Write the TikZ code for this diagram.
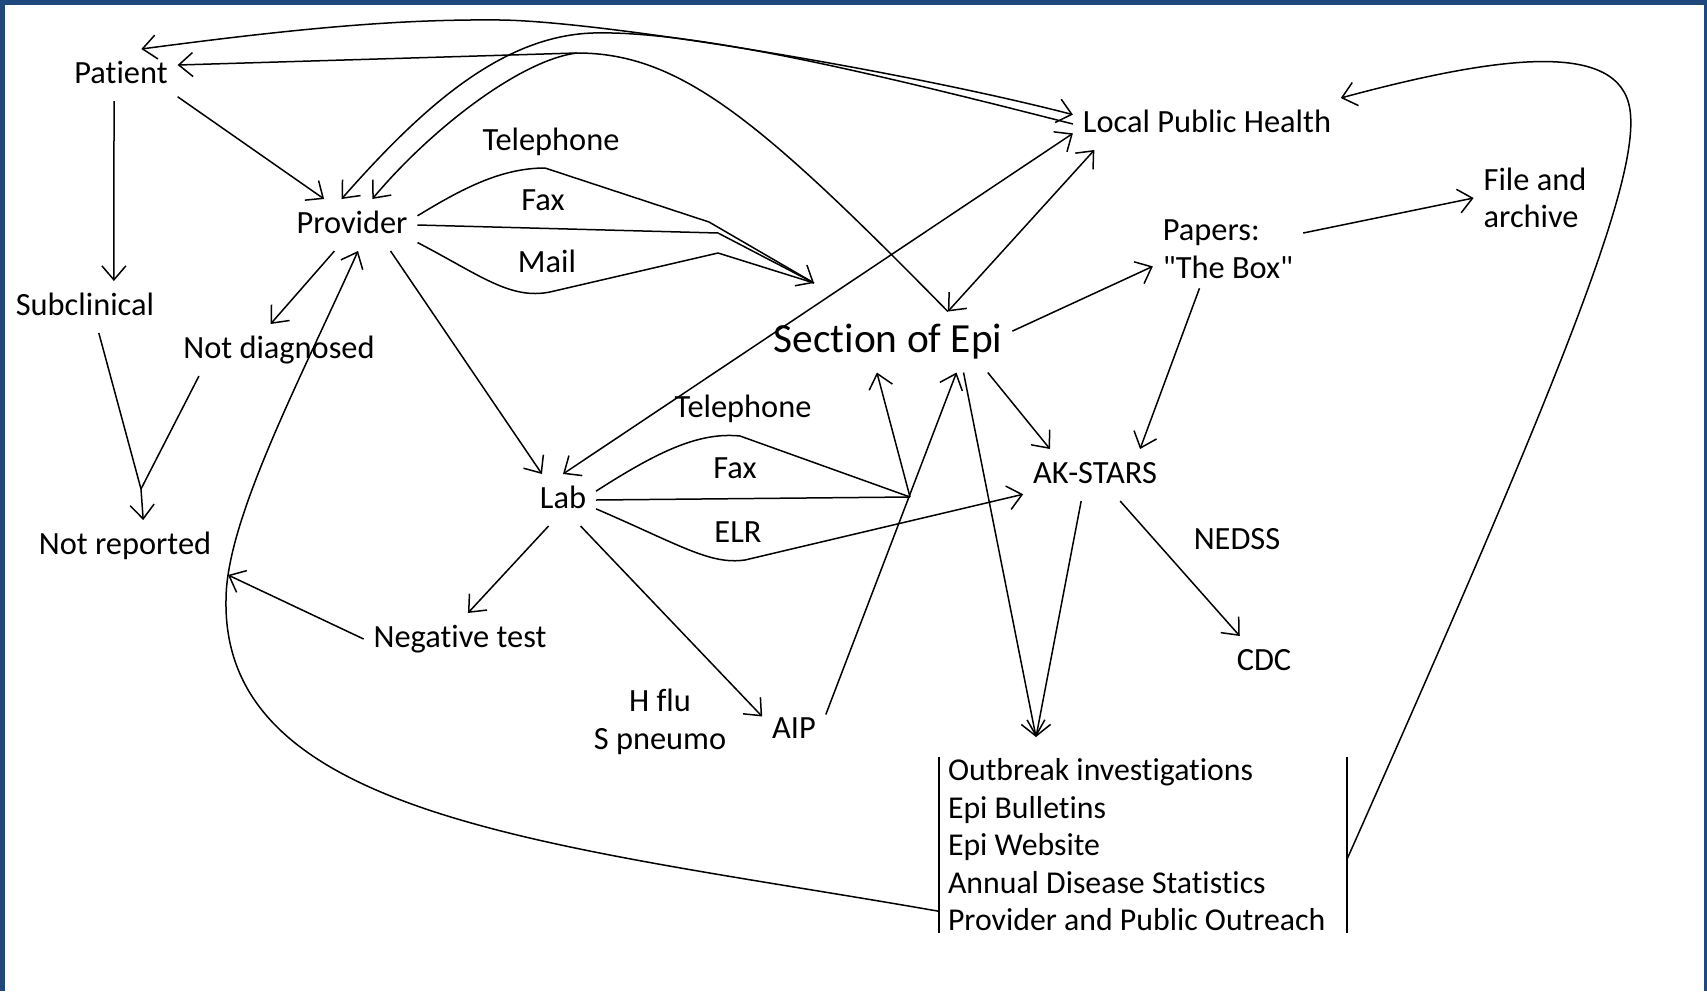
\documentclass[tikz,border=0pt]{standalone}
\usepackage{fontspec}
\setmainfont{Carlito}[Ligatures={TeXOff,NoCommon}]
\usetikzlibrary{arrows.meta}
\definecolor{frameblue}{RGB}{31,73,125}
\tikzset{
  txt/.style={font=\fontsize{16.2}{18.75}\selectfont, inner sep=1pt, outer sep=4pt},
  word/.style={txt, text height=12pt, text depth=4pt},
  link/.style={line width=0.75pt, line join=round},
}

\begin{document}
\begin{tikzpicture}[x=0.5pt, y=-0.5pt, >={Straight Barb[length=7pt,width=12pt]}]
    % Page and frame
    \fill[white] (0,0) rectangle (1707,991);
    \useasboundingbox (0,0) rectangle (1707,991);
    \fill[frameblue] (0,0) rectangle (1707,5);
    \fill[frameblue] (0,0) rectangle (5,991);
    \fill[frameblue] (1704,0) rectangle (1707,991);

    % Patient and provider side
    \node[word] (patient) at (121,75) {Patient};
    \node[word] (provider) at (352,225) {Provider};
    \node[word] (subclin) at (85,307) {Subclinical};
    \node[word] (notdiag) at (279,350) {Not diagnosed};
    \node[word] (notrep) at (125,546) {Not reported};

    % Public health side
    \node[word] (lph) at (1207,124) {Local Public Health};
    \node[txt, align=left] (filearch) at (1535,198) {File and\\archive};
    \node[txt, align=left] (papers) at (1228,249) {Papers:\\"The Box"};
    \node[word, font=\fontsize{20.7}{24}\selectfont, text height=15.5pt, text depth=5pt] (soe) at (888,342) {Section of Epi};
    \node[word] (akstars) at (1095,475) {AK-STARS};
    \node[word] (nedss) at (1237,541) {NEDSS};
    \node[word] (cdc) at (1264,662) {CDC};

    % Lab side
    \node[word] (lab) at (563,500) {Lab};
    \node[word] (negtest) at (460,639) {Negative test};
    \node[txt, align=center] (hflu) at (660,722) {H flu\\S pneumo};
    \node[word] (aip) at (794,730) {AIP};

    % Channel labels
    \node[word] (ptel) at (551,142) {Telephone};
    \node[word] (pfax) at (543,202) {Fax};
    \node[word] (pmail) at (547,264) {Mail};
    \node[word] (ltel) at (743,409) {Telephone};
    \node[word] (lfax) at (735,470) {Fax};
    \node[word] (lelr) at (738,534) {ELR};

    % Products list between two bars
    \node[txt, font=\fontsize{15.9}{18.75}\selectfont, anchor=west, align=flush left, text width=195pt, inner xsep=4.5pt, outer sep=0pt] (outputs) at (939,845)
      {Outbreak investigations\\Epi Bulletins\\Epi Website\\Annual Disease Statistics\\Provider and Public Outreach};
    \draw[link] (outputs.north west) -- (outputs.south west);
    \draw[link] (outputs.north east) -- (outputs.south east);

    % Patient paths
    \coordinate (jn) at (141,489);
    \draw[link, ->] (patient.-21) -- (provider.137);
    \draw[link, ->] (patient.-105) -- (subclin.42);
    \draw[link] (subclin.-62) -- (jn);
    \draw[link] (notdiag.-162) -- (jn);
    \draw[link, ->] (jn) -- (notrep.55);
    \draw[link, ->] (provider.-124) -- (notdiag.108);

    % Long arcs over the top
    \coordinate (cbr) at (577,53);
    \draw[link, <->] (patient.52) .. controls (300,28) and (400,19) .. (500,20)
      .. controls (600,21) and (900,70) .. (lph.176);
    \draw[link, ->] (lph.180) .. controls (900,80) and (700,30) .. (593,33)
      .. controls (500,36) and (420,110) .. (provider.112);
    \draw[link, ->] (soe.27) .. controls (760,120) and (680,53) .. (cbr) -- (patient.10);
    \draw[link, ->] (cbr) .. controls (520,60) and (430,130) .. (provider.52);

    % Provider reports by telephone, fax, mail
    \coordinate (pfm) at (814,283);
    \draw[link, ->] (provider.8) .. controls (460,190) and (500,168) .. (545,168) -- (709,222) -- (pfm);
    \draw[link] (provider.east) -- (718,233) -- (pfm);
    \draw[link] (provider.-15) .. controls (480,275) and (510,300) .. (550,292) -- (718,253) -- (pfm);
    \draw[link, ->] (provider.-34) -- (lab.129);

    % Feedback curve back to the provider
    \coordinate (ncurve) at (228,575);
    \draw[link, ->] (outputs.-162) .. controls (560,845) and (222,820) .. (226,600)
      .. controls (226,520) and (300,380) .. (provider.-77);
    \draw[link, ->] (negtest.west) -- (ncurve);

    % Lab paths
    \coordinate (lc) at (910,497);
    \draw[link, ->] (lab.-119) -- (negtest.73);
    \draw[link, ->] (lab.-56) -- (aip.157);
    \draw[link] (lab.15) .. controls (660,450) and (700,432) .. (740,436) -- (lc);
    \draw[link] (lab.east) -- (lc);
    \draw[link, ->] (lc) -- (soe.-110);
    \draw[link, ->] (lab.-15) .. controls (680,545) and (710,565) .. (745,560) -- (akstars.-165);
    \draw[link, ->] (aip.26) -- (soe.-24.5);

    % Local public health links
    \draw[link, <->] (soe.27) -- (lph.-167);
    \draw[link, <->] (lph.-176) -- (lab.north);

    % Section of Epi outputs
    \coordinate (boxtip) at (1036,737);
    \draw[link, ->] (soe.5) -- (papers.-167);
    \draw[link, ->] (papers.12) -- (filearch.180);
    \draw[link, ->] (papers.-126) -- (akstars.30);
    \draw[link, ->] (soe.-17) -- (akstars.150);
    \draw[link, ->] (soe.-22) -- (boxtip);
    \draw[link, ->] (akstars.-118) -- (boxtip);
    \draw[link, ->] (akstars.-46) -- (cdc.133);
    \draw[link, ->] (outputs.-4.5) .. controls (1560,380) and (1640,180) .. (1630,110)
      .. controls (1620,40) and (1500,55) .. (lph.11);
\end{tikzpicture}
\end{document}
